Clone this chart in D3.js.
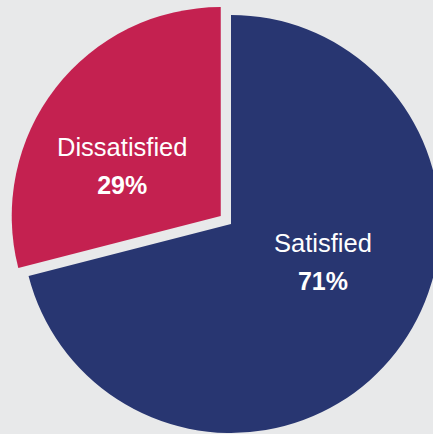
<!DOCTYPE html>
<html>
<head>
<meta charset="utf-8">
<script src="https://cdn.jsdelivr.net/npm/d3@7"></script>
<style>
  html, body { margin: 0; padding: 0; background: #e8e9ea; }
  svg { display: block; }
</style>
</head>
<body>
<svg id="chart" width="433" height="434"></svg>
<script>
// Survey result shares
const categories = ["Satisfied", "Dissatisfied"];
const shares = [71, 29];
const valueLabels = ["71%", "29%"];

const colors = { Satisfied: "#283671", Dissatisfied: "#c42150" };

const width = 433, height = 434;
const cx = 231, cy = 224, radius = 209;
const explode = { Satisfied: 0, Dissatisfied: 13 };
// label offsets from each slice's own centre (x, y)
const labelOffset = { Satisfied: [92, 28], Dissatisfied: [-98.5, -60] };

const svg = d3.select("#chart");
const g = svg.append("g").attr("transform", `translate(${cx},${cy})`);

const data = categories.map((c, i) => ({ name: c, value: shares[i], label: valueLabels[i] }));

const pie = d3.pie().sort(null).value(d => d.value);
const arc = d3.arc().innerRadius(0).outerRadius(radius);

const arcs = pie(data);

const slices = g.selectAll("g.slice")
  .data(arcs)
  .join("g")
  .attr("class", "slice")
  .attr("transform", d => {
    const mid = (d.startAngle + d.endAngle) / 2;
    const off = explode[d.data.name];
    return `translate(${Math.sin(mid) * off},${-Math.cos(mid) * off})`;
  });

slices.append("path")
  .attr("d", arc)
  .attr("fill", d => colors[d.data.name]);

slices.append("text")
  .attr("x", d => labelOffset[d.data.name][0])
  .attr("y", d => labelOffset[d.data.name][1])
  .attr("text-anchor", "middle")
  .attr("fill", "#ffffff")
  .attr("font-family", "Liberation Sans, Arial, sans-serif")
  .attr("font-size", 25.5)
  .text(d => d.data.name);

slices.append("text")
  .attr("x", d => labelOffset[d.data.name][0])
  .attr("y", d => labelOffset[d.data.name][1] + 38)
  .attr("text-anchor", "middle")
  .attr("fill", "#ffffff")
  .attr("font-family", "Liberation Sans, Arial, sans-serif")
  .attr("font-weight", "bold")
  .attr("font-size", 25)
  .text(d => d.data.label);
</script>
</body>
</html>
